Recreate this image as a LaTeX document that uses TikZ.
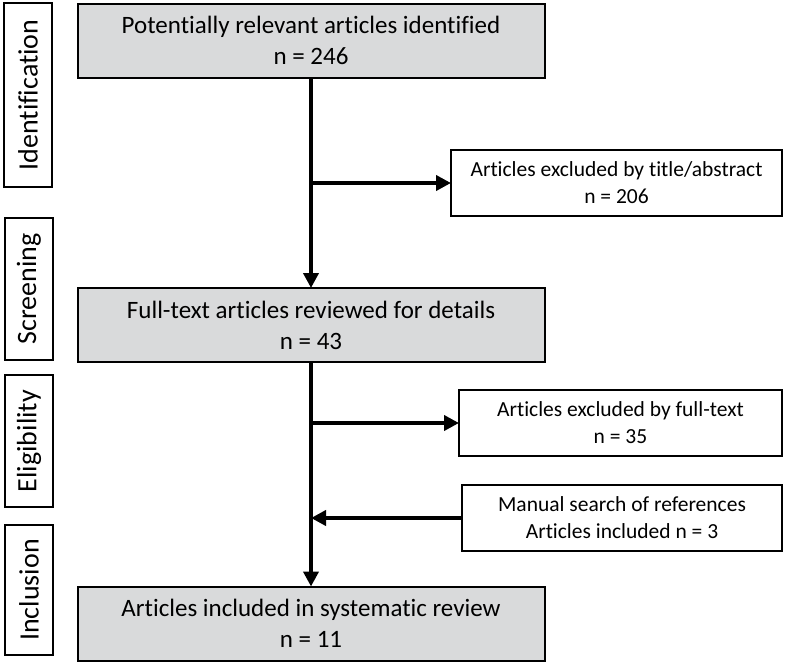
\documentclass[tikz,border=0pt]{standalone}
\usepackage{fontspec}
\setmainfont[Ligatures=NoCommon]{Carlito}
\usetikzlibrary{arrows.meta}
\definecolor{mygray}{RGB}{217, 218, 219}
\tikzstyle{graybox} = [draw=black, outer sep=0, inner sep=2,
    minimum width=467, minimum height=74, line width=2,
    fill=mygray, font=\fontsize{25}{31}\selectfont, align=center]
\tikzstyle{whitebox} = [draw=black, outer sep=0, inner sep=2,
    minimum height=66, line width=2,
    fill=white, font=\fontsize{21.5}{27}\selectfont, align=center]
\tikzstyle{stage} = [draw=black, outer sep=0, inner sep=2,
    minimum height=48, line width=2, rotate=90,
    fill=white, font=\fontsize{28}{32}\selectfont]
\tikzstyle{flow} = [line width=4, -{Triangle[length=15, width=15]}]

\begin{document}
\begin{tikzpicture}[x=1pt, y=-1pt]

\useasboundingbox (0,0) rectangle (786,665);

%%% stages
\node[stage, minimum width=184] (ident) at (28,95) {Identification};
\node[stage, minimum width=142] (screen) at (29,289) {Screening};
\node[stage, minimum width=132] (elig) at (29,441) {Eligibility};
\node[stage, minimum width=130] (incl) at (29,590) {Inclusion};

%%% main flow
\node[graybox] (found) at (311,40.5) {Potentially relevant articles identified \\ n = 246};
\node[graybox] (full) at (311,325) {Full-text articles reviewed for details \\ n = 43};
\node[graybox] (final) at (311,623.5) {Articles included in systematic review \\ n = 11};

%%% side boxes
\node[whitebox, minimum width=331] (excl1) at (616.5,183) {Articles excluded by title/abstract \\ n = 206};
\node[whitebox, minimum width=323] (excl2) at (620.5,423) {Articles excluded by full-text \\ n = 35};
\node[whitebox, minimum width=320] (manual) at (622,518) {Manual search of references \\ Articles included n = 3};

\draw[flow] (found) -- (full);
\draw[flow] (full) -- (final);
\draw[flow] (excl1.west -| found.south) -- (excl1.west);
\draw[flow] (excl2.west -| full.south) -- (excl2.west);
\draw[flow] (manual.west) -- (manual.west -| full.south);

\end{tikzpicture}
\end{document}
